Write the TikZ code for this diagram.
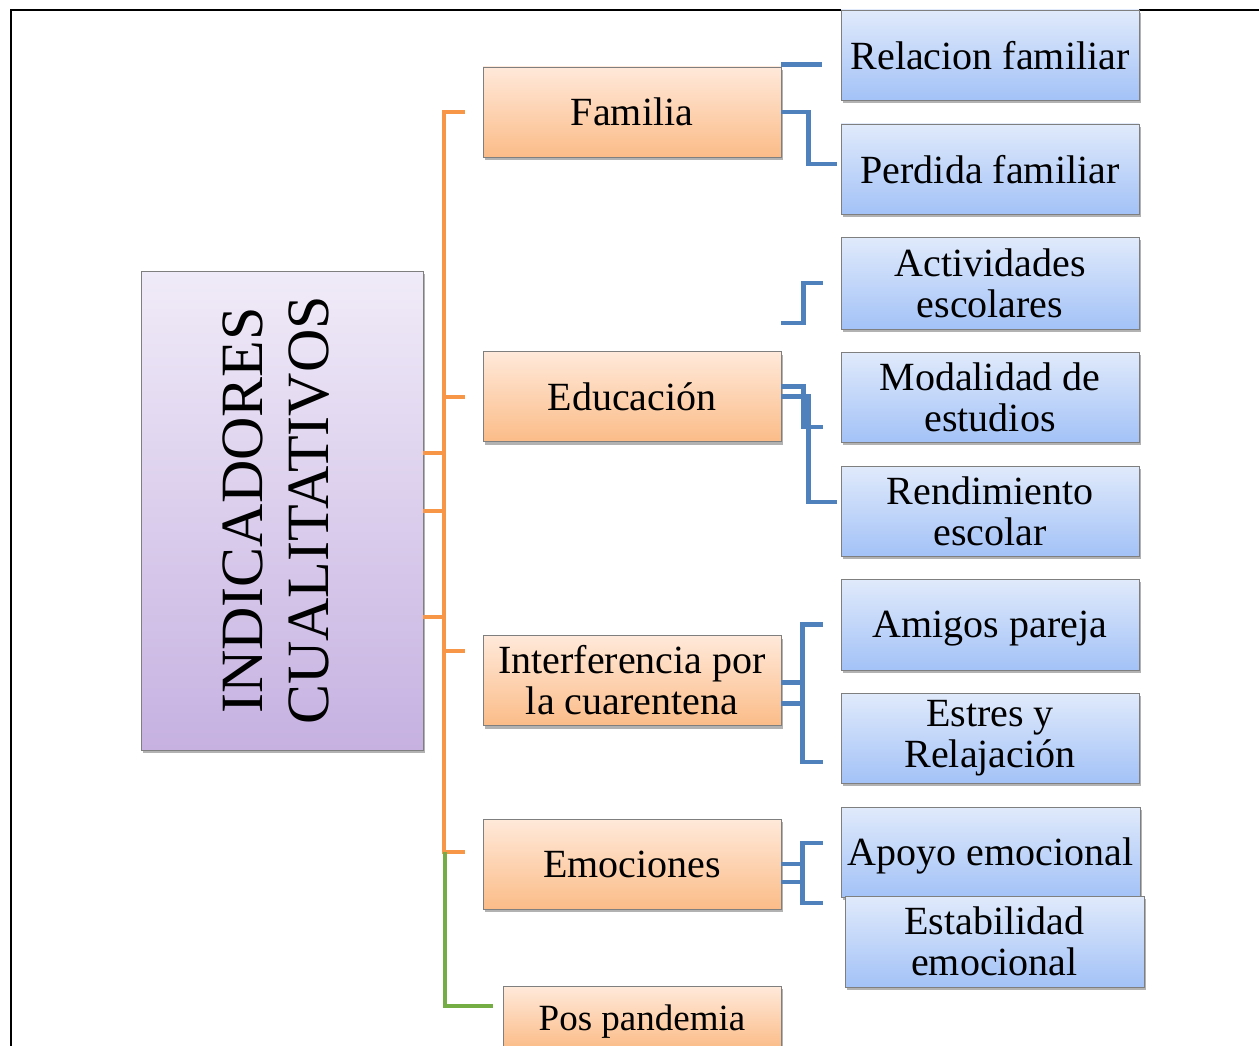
\documentclass[tikz,border=0pt]{standalone}
\usepackage{fontspec}
\setmainfont{Liberation Serif}
\usepackage{graphicx}
\usetikzlibrary{shadows}
\definecolor{otop}{HTML}{FFE9DA}
\definecolor{obot}{HTML}{FBBC88}
\definecolor{btop}{HTML}{E0EAFB}
\definecolor{bbot}{HTML}{A3C2F7}
\definecolor{ptop}{HTML}{F0EBF8}
\definecolor{pbot}{HTML}{C6B1E1}
\definecolor{boxgray}{HTML}{7F7F7F}
\definecolor{lblue}{HTML}{4F81BD}
\definecolor{lorange}{HTML}{F79646}
\definecolor{lgreen}{HTML}{74AD44}
\begin{document}
\begin{tikzpicture}[x=1pt,y=-1pt,
  box/.style={draw=boxgray, line width=0.9pt, inner sep=2pt, align=center,
    font=\fontsize{40}{41}\selectfont,
    drop shadow={shadow xshift=2pt,shadow yshift=-3pt,opacity=0.3,fill=black}},
  obox/.style={box, top color=otop, bottom color=obot, minimum width=298pt, minimum height=90pt},
  bbox/.style={box, top color=btop, bottom color=bbot, minimum width=298pt, minimum height=90pt},
  sline/.style={text depth=0pt},
  bl/.style={draw=lblue, line width=4.5pt},
  orl/.style={draw=lorange, line width=4pt},
  grl/.style={draw=lgreen, line width=4pt}]
\useasboundingbox (0,0) rectangle (1259,1046);
\fill[white] (0,0) rectangle (1259,1046);
% frame
\draw[line width=2pt] (11,1046) -- (11,10.5) -- (1259,10.5);
% root
\node[box, top color=ptop, bottom color=pbot, minimum width=282pt, minimum height=479pt] (root) at (282,510.5)
  {\rotatebox{90}{\fontsize{60}{66}\selectfont\begin{tabular}{@{}c@{}}INDICADORES\\CUALITATIVOS\end{tabular}}};
% level 1
\node[obox, sline] (fam) at (632,112) {Familia};
\node[obox, sline] (edu) at (632,396.5) {Educación};
\node[obox] (inter) at (632,680.5) {Interferencia por\\la cuarentena};
\node[obox, sline] (emo) at (632,864) {Emociones};
\node[obox, sline, minimum width=278pt, minimum height=62pt, anchor=north, font=\fontsize{37}{38}\selectfont] (pos) at (642,986) {Pos pandemia};
% level 2
\node[bbox, sline] (rel) at (990,55) {Relacion familiar};
\node[bbox, sline] (per) at (990,169) {Perdida familiar};
\node[bbox, minimum height=92pt] (act) at (990,283) {Actividades\\escolares};
\node[bbox] (mod) at (990,397) {Modalidad de\\estudios};
\node[bbox] (ren) at (990,511) {Rendimiento\\escolar};
\node[bbox, sline, minimum height=91pt] (ami) at (990,624.5) {Amigos pareja};
\node[bbox] (est) at (990,738) {Estres y\\Relajación};
\node[bbox, sline, minimum width=299pt] (apo) at (990.5,852) {Apoyo emocional};
\node[bbox, minimum width=299pt, minimum height=91pt] (esta) at (994.5,941.5) {Estabilidad\\emocional};
% orange connectors
\draw[orl] ([yshift=57.5pt]root.east) -- ++(21,0);
\draw[orl] (root.east) -- ++(21,0);
\draw[orl] ([yshift=-106.5pt]root.east) -- ++(21,0);
\draw[orl] ([xshift=-18pt]fam.west) -- ++(-21,0) |- ([xshift=-18pt,yshift=12pt]emo.west);
\draw[orl] ([xshift=-18pt]edu.west) -- ++(-21,0);
\draw[orl] ([xshift=-18pt,yshift=29.5pt]inter.west) -- ++(-21,0);
% green connector
\draw[grl] ([xshift=-38pt,yshift=12pt]emo.west) |- ([xshift=-10pt,yshift=11pt]pos.west);
% blue connectors
\draw[bl] ([yshift=2pt]fam.north east) -- ++(41,0);
\draw[bl] (fam.east) -- ++(27,0) |- ([xshift=-4pt,yshift=5pt]per.west);
\draw[bl] ([yshift=28pt]edu.north east) -- ++(22,0) |- ([xshift=-18pt]act.west);
\draw[bl] ([yshift=10pt]edu.east) -- ++(22,0) |- ([xshift=-18pt,yshift=-30pt]mod.west);
\draw[bl] (edu.east) -- ++(27,0) |- ([xshift=-4pt,yshift=9pt]ren.west);
\draw[bl] ([yshift=-2pt]inter.east) -- ++(22,0);
\draw[bl] ([yshift=-23pt]inter.east) -- ++(22,0);
\draw[bl] ([xshift=-18pt]ami.west) -- ++(-20,0) |- ([xshift=-18pt,yshift=-24pt]est.west);
\draw[bl] (emo.east) -- ++(22,0);
\draw[bl] ([yshift=-18pt]emo.east) -- ++(22,0);
\draw[bl] ([xshift=-18pt,yshift=9pt]apo.west) -- ++(-20,0) |- ([xshift=-22pt,yshift=38.5pt]esta.west);
\end{tikzpicture}
\end{document}
